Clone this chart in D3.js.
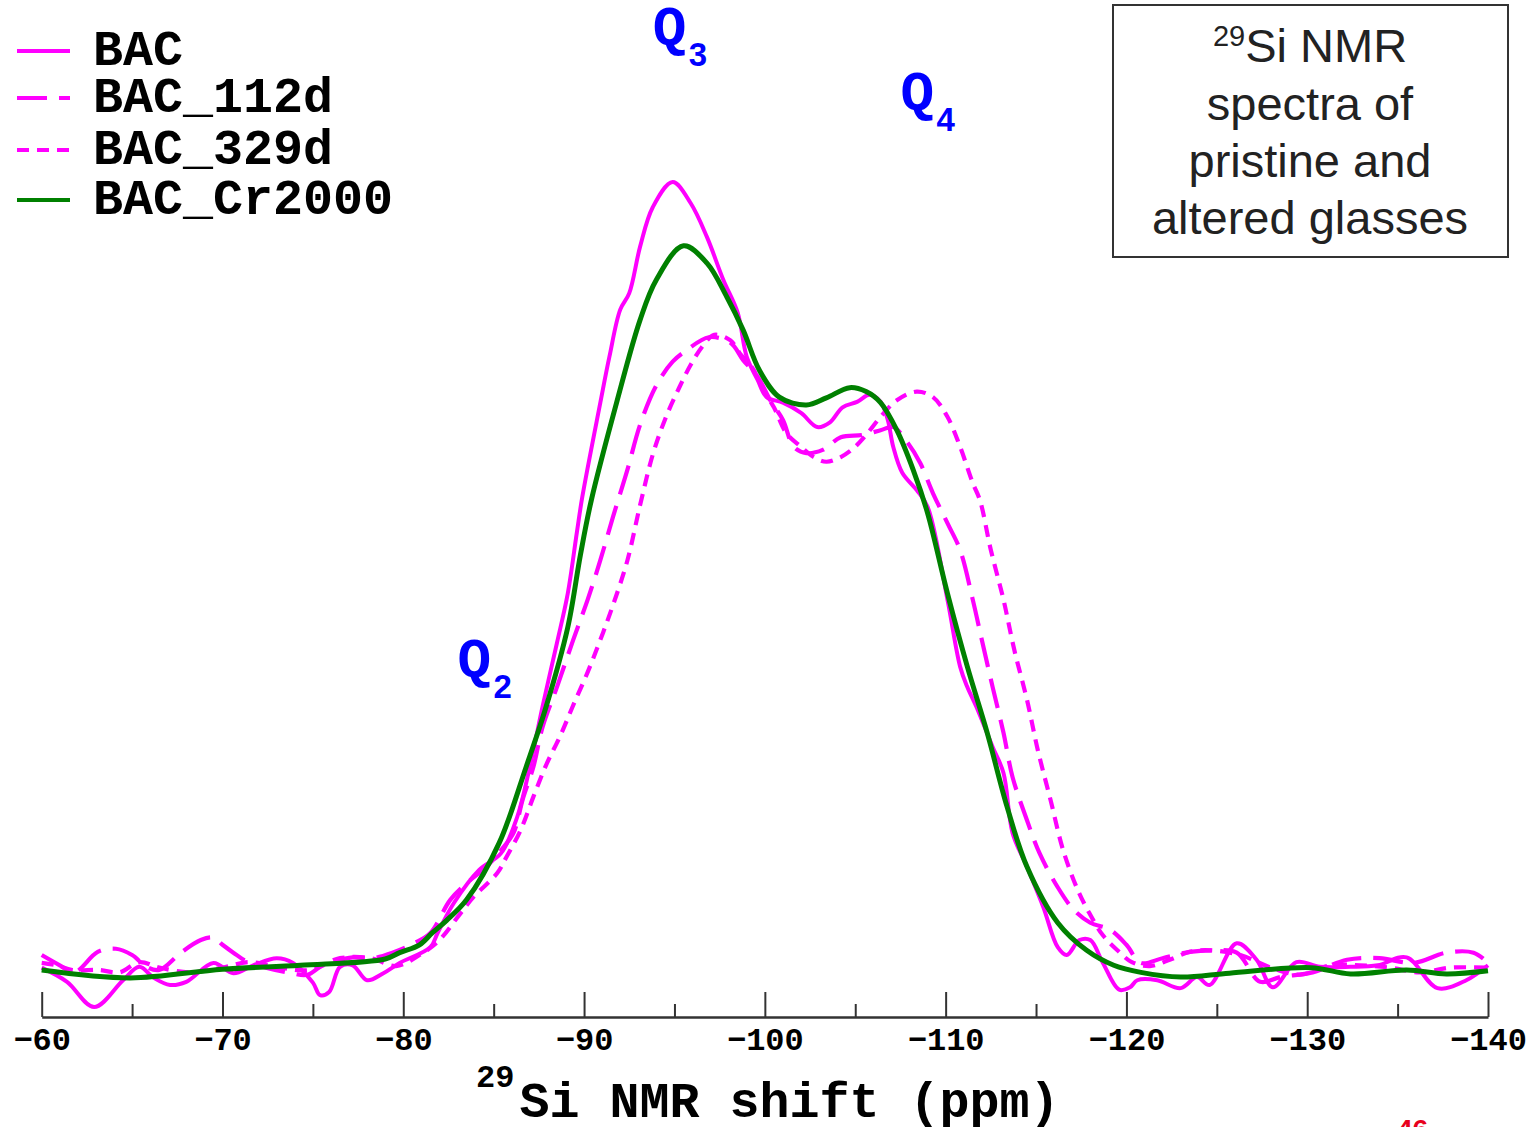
<!DOCTYPE html>
<html>
<head>
<meta charset="utf-8">
<script src="https://cdn.jsdelivr.net/npm/d3@7"></script>
<style>
  html, body { margin: 0; padding: 0; background: #fff; }
  svg { display: block; }
</style>
</head>
<body>
<svg id="chart" width="1535" height="1127"></svg>
<script>
// 29Si MAS NMR spectra: [chemical shift (ppm), intensity (a.u., BAC peak = 100)]
const seriesNames = ["BAC", "BAC_112d", "BAC_329d", "BAC_Cr2000"];

const bac = [
  [-60,0.3],[-61.4,-1.5],[-62.9,-4.7],[-64.5,-1.3],[-65.4,0.4],[-66.2,-1.0],[-67.1,-1.9],[-68,-1.5],
  [-69.5,0.9],[-70.6,-0.4],[-71.7,0.6],[-73,1.5],[-73.9,0.9],[-75,-1.6],[-75.4,-3.2],[-75.9,-2.8],
  [-76.5,0.4],[-77.2,0.6],[-78,-1.3],[-78.9,-0.4],[-79.8,0.9],[-81.5,2.9],[-81.9,4.7],[-82.8,8.5],
  [-84.2,12.7],[-85.4,14.8],[-86.3,19.4],[-87,25.8],[-87.7,33.4],[-88.5,41.5],[-89.1,47.8],[-89.6,55.5],
  [-89.9,60],[-90.9,72],[-91.4,77.8],[-92,83.8],[-92.5,85.9],[-93.1,91.8],[-93.8,96.8],[-94.9,100],
  [-95.9,97.3],[-96.8,93],[-97.7,87.6],[-98.5,83.4],[-99,77.8],[-99.6,74.9],[-100.1,72.7],[-101,72],
  [-102,70.7],[-102.9,68.9],[-103.6,69.5],[-104.3,71.4],[-105.1,72.1],[-105.8,73],[-106.4,72.1],
  [-106.8,69.8],[-107.1,66.4],[-107.6,63.1],[-108.4,60.9],[-109,58.8],[-110.1,47],[-110.8,38.5],
  [-111.2,35.9],[-111.7,33.4],[-112.6,28.3],[-113.2,25],[-113.7,17.4],[-114.5,13.1],[-115.4,8],
  [-116.2,2.9],[-116.7,1.9],[-117.4,3.8],[-118,3.8],[-118.7,0.9],[-119.6,-2.5],[-120.2,-2.2],
  [-120.6,-1.3],[-121.7,-1.3],[-123,-2.3],[-123.9,-0.9],[-124.6,-1.9],[-126.1,3.4],[-127.2,1.3],
  [-128.1,-2.2],[-129.4,1.0],[-130.7,0.4],[-132.4,0.4],[-133.9,0.6],[-135.5,1.6],[-137.2,-2.3],
  [-138.8,-1.3],[-140,0.6]
];

const bac112d = [
  [-60,1.9],[-61,0.6],[-61.8,-0.3],[-63.1,2.3],[-64.1,2.7],[-65,1.9],[-65.8,0.4],[-66.5,0],
  [-67.7,2.2],[-68.8,3.8],[-69.5,4.1],[-70,3.2],[-70.6,2.2],[-71.4,1.0],[-72.4,0.3],[-73.6,-0.3],
  [-74.7,-0.6],[-75.4,0.4],[-76.1,1.0],[-77.2,1.6],[-78.3,1.5],[-79.4,2.2],[-80.6,3.4],[-81.5,4.7],
  [-82.6,8.9],[-83.5,11],[-84.6,13.1],[-85.4,15.2],[-86.1,17.4],[-86.6,21.6],[-87.2,25.8],[-87.7,30.8],
  [-88.5,35.9],[-89.4,41.9],[-90.2,47],[-90.9,52],[-91.6,57.5],[-92.4,63.5],[-93.1,69.2],[-94,74.2],
  [-94.9,77.2],[-95.7,78.7],[-96.9,80.3],[-98.1,79.6],[-98.8,77.4],[-99.6,75.3],[-100.3,72.3],
  [-101,69.8],[-101.6,66.4],[-102.3,65.6],[-103.2,66],[-104.2,67.6],[-105.4,67.9],[-106.4,68.5],
  [-107.1,68.9],[-107.9,66.9],[-108.6,64.3],[-109.3,60.5],[-110.1,56.7],[-110.8,53.3],[-111.5,47],
  [-112,41.9],[-112.6,35.9],[-113.2,30.1],[-113.7,24.5],[-114.5,19],[-115.2,14.8],[-116.2,10.5],
  [-117.1,7.6],[-118,6],[-119.1,5.1],[-120,3.2],[-120.8,0.9],[-122,1.5],[-123.5,2.3],[-124.8,2.5],
  [-126.1,2.2],[-127.4,-1.5],[-128.5,-0.9],[-130.3,-0.3],[-132.2,1.3],[-134,1.5],[-135.9,0.9],
  [-137.7,2.2],[-139.2,2.2],[-140,0.9]
];

const bac329d = [
  [-60,0.9],[-60.8,0.6],[-61.7,0],[-63.2,0],[-64.3,-0.3],[-65.4,1.0],[-66.5,0.3],[-68.2,-0.3],
  [-70,0.3],[-71.5,1.0],[-73.2,0.3],[-74.8,0],[-76.5,1.5],[-78.2,1.5],[-79.6,0.5],[-80.9,1.9],
  [-82,3.8],[-83.1,7],[-83.9,9.3],[-85.2,12.3],[-85.7,14.3],[-86.5,17.8],[-87.2,22],[-87.9,26],
  [-88.7,29.8],[-89.4,33.6],[-90.2,37.8],[-90.9,41.9],[-91.6,46.3],[-92.4,52],[-93.1,59],
  [-93.8,65.4],[-94.5,70],[-95.2,73.6],[-95.9,76.8],[-96.6,79.3],[-97.2,80.6],[-98.1,79.9],
  [-98.6,78.3],[-99.4,76.1],[-99.7,74.5],[-100.5,71.4],[-101.2,68.1],[-102,66.4],[-102.7,65.1],
  [-103.4,64.5],[-104.2,65.1],[-104.9,66.2],[-105.6,67.9],[-106.4,70.2],[-107.3,72.3],[-108.4,73.4],
  [-109.3,72.7],[-110.1,70.2],[-110.8,66.4],[-111.5,61.8],[-111.9,59.6],[-112.5,53.3],[-113.2,47],
  [-113.8,40.6],[-114.5,34.3],[-115.1,27.9],[-115.8,21.6],[-116.5,15.2],[-117.3,10.2],[-118,7],
  [-118.7,4.4],[-119.5,2.5],[-120.3,1.0],[-121.3,0.5],[-122.4,1.3],[-123.5,2.3],[-124.6,2.5],
  [-126.3,1.9],[-128,0.3],[-129.6,-0.6],[-131.3,0.6],[-132.9,0.6],[-134.6,0.3],[-136.2,-0.3],
  [-137.9,0.3],[-140,0.3]
];

const bacCr2000 = [
  [-60,0],[-64.9,-1.0],[-70,0.1],[-74.3,0.6],[-79,1.4],[-79.8,2.2],[-80.9,3.2],[-81.6,4.7],
  [-82.4,6.3],[-83.5,8.9],[-85.3,16.1],[-86.8,25.8],[-87.9,33.4],[-89.1,43.5],[-89.8,52.7],
  [-90.4,59.6],[-91.8,72],[-93.1,82.5],[-94,87.6],[-95.5,91.9],[-96.8,89.7],[-97.9,85.4],
  [-98.8,81.2],[-99.7,76.1],[-100.8,72.7],[-102.3,71.7],[-103.4,72.6],[-104.7,73.9],[-105.6,73.4],
  [-106.4,72],[-107.3,68.5],[-108.2,63.5],[-109,58],[-110.1,47.8],[-111.2,38.5],[-112.3,30.1],
  [-113.4,20.7],[-114.5,13.1],[-116.2,6],[-117.8,2.5],[-119.3,0.6],[-120.8,-0.3],[-123,-0.9],
  [-125.7,-0.4],[-130.2,0.3],[-132.4,-0.5],[-135.5,0],[-137.7,-0.5],[-140,-0.1]
];

const majorTicks = [-60, -70, -80, -90, -100, -110, -120, -130, -140];
const minorTicks = [-65, -75, -85, -95, -105, -115, -125, -135];

// peak assignments: Qn species label, subscript, position [ppm, intensity]
const peakLabels = [
  { q: "Q", n: "3", at: [-93.8, 117.4] },
  { q: "Q", n: "4", at: [-107.5, 109.1] },
  { q: "Q", n: "2", at: [-83.0, 37.2] }
];

const boxLines = ["spectra of", "pristine and", "altered glasses"];

// ---------- drawing ----------
const svg = d3.select("#chart");
const MONO = "'Liberation Mono', 'Courier New', monospace";
const SANS = "'Liberation Sans', Arial, sans-serif";
const MAGENTA = "#ff00ff", GREEN = "#008000", BLUE = "#0000ff";

const x = d3.scaleLinear().domain([-60, -140]).range([41.7, 1488]);
const y = d3.scaleLinear().domain([0, 100]).range([970, 182]);
const axisY = 1017;

const styles = [
  { data: bac,       color: MAGENTA, width: 4,   dash: null },
  { data: bac112d,   color: MAGENTA, width: 4.2, dash: "30,12" },
  { data: bac329d,   color: MAGENTA, width: 4.2, dash: "12,8" },
  { data: bacCr2000, color: GREEN,   width: 5,   dash: null }
];

// x axis: major ticks (labelled) and minor ticks, pointing into the plot
const gMajor = svg.append("g").attr("transform", `translate(0,${axisY})`)
  .call(d3.axisBottom(x).tickValues(majorTicks).tickSizeInner(-25).tickSizeOuter(0).tickPadding(10));
const gMinor = svg.append("g").attr("transform", `translate(0,${axisY})`)
  .call(d3.axisBottom(x).tickValues(minorTicks).tickSizeInner(-13).tickSizeOuter(0).tickFormat(""));
gMinor.select(".domain").remove();
[gMajor, gMinor].forEach(g => {
  g.selectAll("line").attr("stroke", "#333").attr("stroke-width", 2);
  g.select(".domain").attr("stroke", "#333").attr("stroke-width", 2.5);
});
gMajor.selectAll("text")
  .attr("fill", "#000")
  .style("font-family", MONO).style("font-weight", "bold").style("font-size", "32px");

// axis title
const title = svg.append("text")
  .attr("x", 476).attr("y", 1117)
  .style("font-family", MONO).style("font-weight", "bold").attr("fill", "#000");
title.append("tspan").text("29").style("font-size", "32px").attr("dy", -30);
title.append("tspan").text("Si NMR shift (ppm)").style("font-size", "50px").attr("dy", 30).attr("dx", 5);

// spectra
const line = d3.line()
  .x(d => x(d[0]))
  .y(d => y(d[1]))
  .curve(d3.curveCatmullRom.alpha(0.5));

styles.forEach(s => {
  svg.append("path")
    .datum(s.data)
    .attr("d", line)
    .attr("fill", "none")
    .attr("stroke", s.color)
    .attr("stroke-width", s.width)
    .attr("stroke-linejoin", "round")
    .attr("stroke-dasharray", s.dash);
});

// legend
const legendRows = [51, 98, 150, 200];
seriesNames.forEach((name, i) => {
  const s = styles[i];
  svg.append("line")
    .attr("x1", 17).attr("x2", 70)
    .attr("y1", legendRows[i]).attr("y2", legendRows[i])
    .attr("stroke", s.color).attr("stroke-width", 4)
    .attr("stroke-dasharray", s.dash);
  svg.append("text")
    .attr("x", 93).attr("y", legendRows[i] + 14)
    .text(name)
    .style("font-family", MONO).style("font-weight", "bold").style("font-size", "50px")
    .attr("fill", "#000");
});

// peak labels
peakLabels.forEach(p => {
  const px = x(p.at[0]), py = y(p.at[1]);
  svg.append("text")
    .attr("x", px).attr("y", py)
    .text(p.q)
    .style("font-family", MONO).style("font-weight", "bold").style("font-size", "56px")
    .attr("fill", BLUE);
  svg.append("text")
    .attr("x", px + 36).attr("y", py + 21)
    .text(p.n)
    .style("font-family", SANS).style("font-weight", "bold").style("font-size", "33px")
    .attr("fill", BLUE);
});

// caption box
svg.append("rect")
  .attr("x", 1113).attr("y", 5).attr("width", 395).attr("height", 252)
  .attr("fill", "none").attr("stroke", "#333").attr("stroke-width", 2);
const cx = 1310;
const first = svg.append("text")
  .attr("x", cx).attr("y", 62).attr("text-anchor", "middle")
  .style("font-family", SANS).style("font-size", "47px").attr("fill", "#222");
first.append("tspan").text("29").style("font-size", "29px").attr("dy", -16);
first.append("tspan").text("Si NMR").attr("dy", 16);
boxLines.forEach((t, i) => {
  svg.append("text")
    .attr("x", cx).attr("y", 120 + i * 57).attr("text-anchor", "middle")
    .text(t)
    .style("font-family", SANS).style("font-size", "47px").attr("fill", "#222");
});

// page number
svg.append("text")
  .attr("x", 1397).attr("y", 1139)
  .text("46")
  .style("font-family", SANS).style("font-weight", "bold").style("font-size", "28px")
  .attr("fill", "#e8001c");
</script>
</body>
</html>
